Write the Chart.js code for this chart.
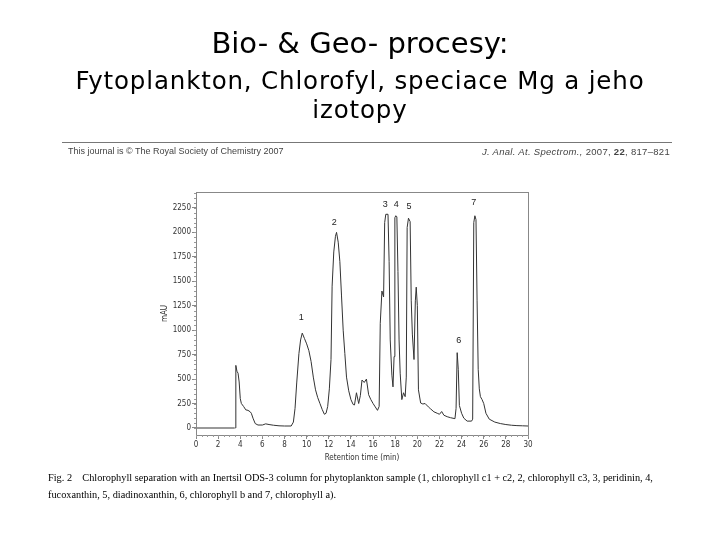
<!DOCTYPE html>
<html lang="cs">
<head>
<meta charset="UTF-8">
<title>Bio- & Geo- procesy</title>
<script src="https://cdn.jsdelivr.net/npm/chart.js"></script>
<style>
  body { margin: 0; background: #fff; }
  #page { position: relative; width: 720px; height: 540px; overflow: hidden; }
  #chart { position: absolute; left: 0; top: 0; }
  .t { position: absolute; white-space: nowrap; color: #000; }
  .title { font-family: "DejaVu Sans", sans-serif; width: 720px; text-align: center; left: 0; }
  .hdr { font-family: "Liberation Sans", Arial, sans-serif; font-size: 9px; color: #444; top: 146px; }
  .rule { position: absolute; left: 62px; width: 610px; top: 142px; border-top: 1px solid #777; }
  .cap { font-family: "Liberation Serif", serif; font-size: 10.3px; left: 48px; }
</style>
</head>
<body>
<div id="page">
  <canvas id="chart" width="720" height="540"></canvas>
  <div class="t title" style="top:26px;font-size:29px;">Bio- &amp; Geo- procesy:</div>
  <div class="t title" style="top:66px;font-size:24.5px;letter-spacing:0.85px;">Fytoplankton, Chlorofyl, speciace Mg a jeho</div>
  <div class="t title" style="top:95px;font-size:24.5px;letter-spacing:0.85px;">izotopy</div>
  <div class="rule"></div>
  <div class="t hdr" style="left:68px;">This journal is © The Royal Society of Chemistry 2007</div>
  <div class="t hdr" style="right:50px;font-style:italic;font-size:9.5px;letter-spacing:0.3px;">J. Anal. At. Spectrom., <span style="font-style:normal">2007, <b>22</b>, 817–821</span></div>
  <div class="t cap" style="top:472px;">Fig. 2&nbsp;&nbsp;&nbsp; Chlorophyll separation with an Inertsil ODS-3 column for phytoplankton sample (1, chlorophyll c1 + c2, 2, chlorophyll c3, 3, peridinin, 4,</div>
  <div class="t cap" style="top:489px;">fucoxanthin, 5, diadinoxanthin, 6, chlorophyll b and 7, chlorophyll a).</div>
</div>
<script>
// chromatogram trace (retention time in min, absorbance in mAU)
const times = [3.55, 3.6, 3.7, 3.8, 3.9, 4.0, 4.1, 4.3, 4.5, 4.7, 4.9, 5.0, 5.15, 5.35, 5.6, 6.0, 6.3, 6.6, 7.0, 7.5, 8.0, 8.6,
  8.8, 8.95, 9.1, 9.3, 9.45, 9.6, 9.8, 10.0, 10.2, 10.4, 10.6, 10.8, 11.0, 11.2, 11.4, 11.6, 11.75, 11.9,
  12.05, 12.2, 12.3, 12.45, 12.6, 12.7, 12.85, 13.0, 13.15, 13.3, 13.45, 13.6, 13.8, 14.0, 14.2, 14.32, 14.5, 14.7, 14.85,
  15.0, 15.2, 15.4, 15.6, 15.8, 16.0, 16.2, 16.4, 16.55, 16.65, 16.8, 16.95, 17.05, 17.15, 17.35, 17.45, 17.55, 17.7, 17.8,
  17.9, 17.97, 18.05, 18.15, 18.25, 18.35, 18.45, 18.6, 18.75, 18.9, 19.0, 19.08, 19.2, 19.35, 19.45, 19.55, 19.7, 19.82,
  19.9, 20.0, 20.1, 20.3, 20.5, 20.7, 21.0, 21.2, 21.5, 21.8, 22.0, 22.2, 22.4, 22.7, 23.0, 23.4, 23.5, 23.6, 23.7, 23.8,
  24.0, 24.2, 24.5, 24.9, 25.0, 25.1, 25.2, 25.3, 25.4, 25.5, 25.6, 25.7, 25.85, 26.0, 26.2, 26.5, 27.0, 27.5, 28.0, 28.5,
  29.0, 29.5, 30.0];
const mAU = [0, 640, 580, 560, 470, 300, 250, 220, 185, 180, 165, 150, 100, 45, 30, 30, 42, 35, 28, 22, 20, 20,
  60, 200, 460, 760, 900, 970, 915, 860, 790, 680, 520, 390, 310, 250, 190, 140, 150, 220,
  400, 700, 1450, 1800, 1960, 2000, 1900, 1700, 1350, 1000, 760, 520, 380, 290, 240, 235, 360, 250, 330,
  490, 465, 500, 340, 290, 250, 215, 180, 220, 1070, 1400, 1340, 2100, 2185, 2185, 1700, 900, 540, 420,
  730, 2150, 2170, 2160, 1600, 900, 560, 290, 360, 320, 520, 2050, 2145, 2110, 1300, 960, 700, 1300,
  1440, 1250, 390, 255, 245, 250, 215, 195, 165, 150, 140, 168, 130, 115, 105, 95, 200, 770, 600, 230,
  150, 100, 70, 70, 90, 2100, 2170, 2130, 1300, 600, 400, 320, 290, 250, 150, 90, 60, 45, 35, 28,
  24, 22, 20];

// grey baseline segment before injection
const baseTimes = [0, 3.5];
const baseValues = [0, 0];

// numbered peak labels
const peakNames = ['1', '2', '3', '4', '5', '6', '7'];
const peakTimes = [9.5, 12.5, 17.1, 18.1, 19.25, 23.75, 25.1];
const peakLabelY = [1125, 2105, 2280, 2280, 2265, 895, 2310];

const xTicks = [0, 2, 4, 6, 8, 10, 12, 14, 16, 18, 20, 22, 24, 26, 28, 30];
const yTicks = [0, 250, 500, 750, 1000, 1250, 1500, 1750, 2000, 2250];

const tickFont = { family: '"Liberation Sans Narrow", "DejaVu Sans Condensed", sans-serif', size: 8 };

const boxAndLabels = {
  id: 'boxAndLabels',
  afterDatasetsDraw(chart) {
    const { ctx, chartArea: a, scales: { x, y } } = chart;
    ctx.save();
    ctx.strokeStyle = '#888';
    ctx.lineWidth = 1;
    ctx.strokeRect(a.left + 0.5, a.top + 0.5, a.right - a.left, a.bottom - a.top);
    // minor ticks
    ctx.strokeStyle = '#999';
    ctx.beginPath();
    for (let t = 0; t <= 30; t += 0.5) {
      const px = Math.round(x.getPixelForValue(t)) + 0.5;
      ctx.moveTo(px, a.bottom); ctx.lineTo(px, a.bottom + 2);
    }
    for (let v = 0; v <= 2400; v += 50) {
      const py = Math.round(y.getPixelForValue(v)) + 0.5;
      ctx.moveTo(a.left, py); ctx.lineTo(a.left - 2, py);
    }
    ctx.stroke();
    ctx.fillStyle = '#222';
    ctx.font = '9px "Liberation Sans", Arial, sans-serif';
    ctx.textAlign = 'center';
    ctx.textBaseline = 'middle';
    peakNames.forEach((n, i) => {
      ctx.fillText(n, x.getPixelForValue(peakTimes[i]), y.getPixelForValue(peakLabelY[i]));
    });
    ctx.restore();
  }
};

new Chart(document.getElementById('chart'), {
  type: 'line',
  data: {
    datasets: [
      {
        data: times.map((t, i) => ({ x: t, y: mAU[i] })),
        borderColor: '#333',
        borderWidth: 1,
        pointRadius: 0,
        tension: 0
      },
      {
        data: baseTimes.map((t, i) => ({ x: t, y: baseValues[i] })),
        borderColor: '#999',
        borderWidth: 2,
        pointRadius: 0
      }
    ]
  },
  options: {
    responsive: false,
    animation: false,
    layout: { padding: { left: 160, right: 192, top: 192, bottom: 77 } },
    plugins: { legend: { display: false }, tooltip: { enabled: false } },
    scales: {
      x: {
        type: 'linear', min: 0, max: 30,
        afterBuildTicks: s => { s.ticks = xTicks.map(v => ({ value: v })); },
        afterFit: s => { s.height = 28; },
        grid: { drawOnChartArea: false, tickLength: 4, color: '#888' },
        border: { color: '#888' },
        ticks: { font: tickFont, color: '#333', maxRotation: 0, padding: 1, callback: v => String(v) },
        title: { display: true, text: 'Retention time (min)', font: tickFont, color: '#333', padding: 0 }
      },
      y: {
        type: 'linear', min: -72, max: 2413,
        afterBuildTicks: s => { s.ticks = yTicks.map(v => ({ value: v })); },
        afterFit: s => { s.width = 36; },
        grid: { drawOnChartArea: false, tickLength: 4, color: '#888' },
        border: { color: '#888' },
        ticks: { font: tickFont, color: '#333', padding: 1, callback: v => String(v) },
        title: { display: true, text: 'mAU', font: tickFont, color: '#333', padding: 0 }
      }
    }
  },
  plugins: [boxAndLabels]
});
</script>
</body>
</html>
